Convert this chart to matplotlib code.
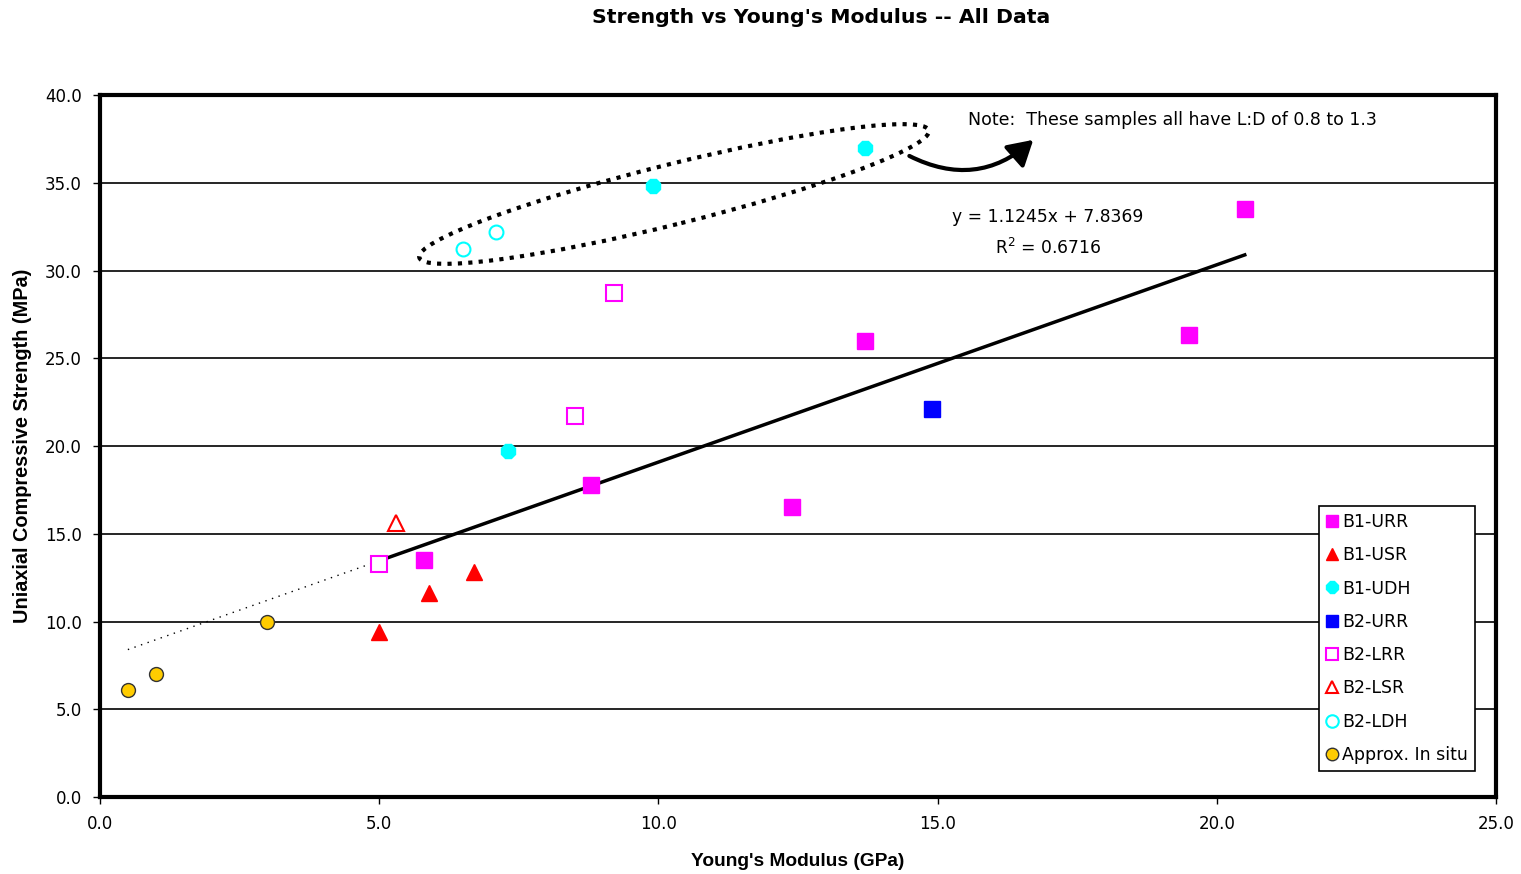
import matplotlib
matplotlib.use("Agg")
import matplotlib.pyplot as plt
import numpy as np
from matplotlib.patches import Ellipse, FancyArrowPatch
from matplotlib.transforms import ScaledTranslation

plt.rcParams["font.family"] = ["DejaVu Sans"]

# Young's modulus (GPa) / UCS (MPa) per sample group
b1_urr_x = [5.8, 8.8, 12.4, 13.7, 19.5, 20.5]
b1_urr_y = [13.5, 17.8, 16.5, 26.0, 26.3, 33.5]
b1_usr_x = [5.0, 5.9, 6.7]
b1_usr_y = [9.4, 11.6, 12.8]
b1_udh_x = [7.3, 9.9, 13.7]
b1_udh_y = [19.7, 34.8, 37.0]
b2_urr_x = [14.9]
b2_urr_y = [22.1]
b2_lrr_x = [5.0, 8.5, 9.2]
b2_lrr_y = [13.3, 21.7, 28.7]
b2_lsr_x = [5.3]
b2_lsr_y = [15.6]
b2_ldh_x = [6.5, 7.1]
b2_ldh_y = [31.2, 32.2]
insitu_x = [0.5, 1.0, 3.0]
insitu_y = [6.1, 7.0, 10.0]

slope, intercept, r2 = 1.1245, 7.8369, 0.6716
fit_x = [5.0, 20.5]
back_x = [0.5, 5.0]

fig = plt.figure(figsize=(15.21, 8.74), dpi=100)
ax = fig.add_axes([0.0657, 0.0881, 0.9179, 0.8032])

ax.set_xlim(0, 25)
ax.set_ylim(0, 40)
ax.set_xticks(np.arange(0, 25.1, 5))
ax.set_yticks(np.arange(0, 40.1, 5))
ax.xaxis.set_major_formatter(matplotlib.ticker.FormatStrFormatter("%.1f"))
ax.yaxis.set_major_formatter(matplotlib.ticker.FormatStrFormatter("%.1f"))
ax.tick_params(direction="out", length=5, width=1, labelsize=12, pad=8)
ax.grid(axis="y", color="black", lw=1.2)
ax.set_axisbelow(True)
for sp in ax.spines.values():
    sp.set_linewidth(3)

# linear trend with back-forecast
bx = np.array(back_x)
fx = np.array(fit_x)
ax.plot(bx, slope * bx + intercept, color="black", lw=1, ls=(0, (1, 4)), zorder=3)
ax.plot(fx, slope * fx + intercept, color="black", lw=2.5, zorder=3)

ax.plot(b1_urr_x, b1_urr_y, "s", ms=11, color="#FF00FF", ls="none", label="B1-URR", zorder=4)
ax.plot(b1_usr_x, b1_usr_y, "^", ms=12, color="#FF0000", ls="none", label="B1-USR", zorder=4)
ax.plot(b1_udh_x, b1_udh_y, "8", ms=10.5, color="#00FFFF", ls="none", label="B1-UDH", zorder=4)
ax.plot(b2_urr_x, b2_urr_y, "s", ms=11, color="#0000FF", ls="none", label="B2-URR", zorder=4)
ax.plot(b2_lrr_x, b2_lrr_y, "s", ms=11, mfc="white", mec="#FF00FF", mew=1.5,
        ls="none", label="B2-LRR", zorder=4)
ax.plot(b2_lsr_x, b2_lsr_y, "^", ms=12, mfc="white", mec="#FF0000", mew=1.5,
        ls="none", label="B2-LSR", zorder=4)
ax.plot(b2_ldh_x, b2_ldh_y, "o", ms=10, mfc="white", mec="#00FFFF", mew=1.5,
        ls="none", label="B2-LDH", zorder=4)
ax.plot(insitu_x, insitu_y, "o", ms=10, mfc="#FFCC00", mec="#333333", mew=1,
        ls="none", label="Approx. In situ", zorder=4)

leg = ax.legend(loc="upper right", bbox_to_anchor=(0.985, 0.4145), fontsize=12.5,
                fancybox=False, edgecolor="black", framealpha=1, borderpad=0.4,
                labelspacing=0.88, handlelength=0.7, handletextpad=0.25,
                borderaxespad=0, numpoints=1)
leg.get_frame().set_linewidth(1.2)
for h in leg.legend_handles:
    h.set_markersize(9)

ax.text(16.98, 33.05, f"y = {slope}x + {intercept}", fontsize=12.3, ha="center", va="center")
ax.text(16.98, 31.3, f"R$^2$ = {r2}", fontsize=12.3, ha="center", va="center")

# dotted ring around the short samples
ring = Ellipse((0, 0), width=5.25, height=0.6, angle=14, fill=False,
               ls=(0, (1, 1.5)), lw=3, ec="black", zorder=5,
               transform=fig.dpi_scale_trans + ScaledTranslation(10.28, 34.36, ax.transData))
ax.add_patch(ring)

arrow = FancyArrowPatch((14.45, 36.6), (16.75, 37.55), connectionstyle="arc3,rad=0.35",
                        arrowstyle="-|>,head_length=0.6,head_width=0.35",
                        mutation_scale=25, lw=3, color="black", zorder=5)
ax.add_patch(arrow)
ax.text(15.55, 38.6, "Note:  These samples all have L:D of 0.8 to 1.3",
        fontsize=12.5, ha="left", va="center")

ax.set_xlabel("Young's Modulus (GPa)", fontsize=13.8, fontweight="bold", labelpad=14,
              family="Liberation Sans")
ax.set_ylabel("Uniaxial Compressive Strength (MPa)", fontsize=14.3, fontweight="bold",
              labelpad=9, family="Liberation Sans")
fig.text(0.54, 0.9805, "Strength vs Young's Modulus -- All Data", fontsize=14.7,
         fontweight="bold", ha="center", va="center")

fig.savefig("out.png", dpi=100)
